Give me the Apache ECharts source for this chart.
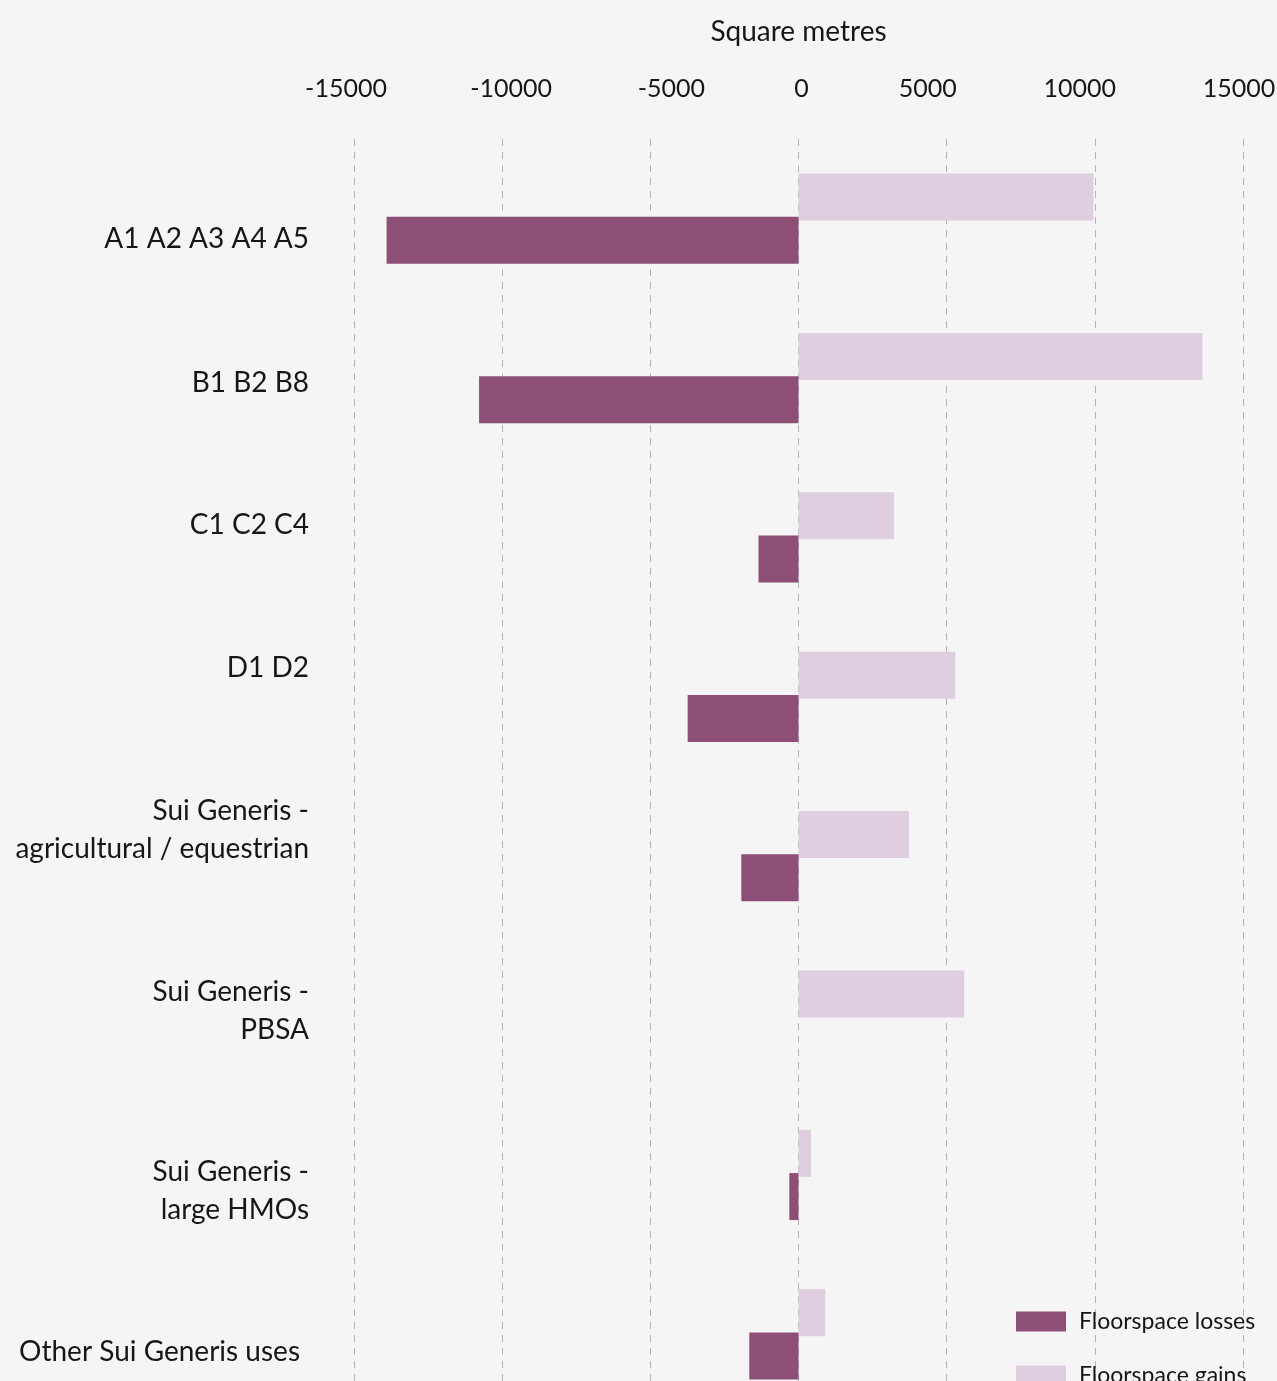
<!DOCTYPE html>
<html>
<head>
<meta charset="utf-8">
<script src="https://cdn.jsdelivr.net/npm/echarts@6/dist/echarts.min.js"></script>
<style>
  html, body { margin: 0; padding: 0; background: #f5f5f5; }
  #chart { width: 1277px; height: 1381px; }
</style>
</head>
<body>
<div id="chart"></div>
<script>
// Use classes (multi-line names wrap with \n)
const categories = [
  'A1 A2 A3 A4 A5',
  'B1 B2 B8',
  'C1 C2 C4',
  'D1 D2',
  'Sui Generis -\nagricultural / equestrian',
  'Sui Generis -\nPBSA',
  'Sui Generis -\nlarge HMOs',
  'Other Sui Generis uses'
];

// Floorspace change, square metres
const gains  = [9950, 13630, 3220, 5290, 3730, 5590, 420, 900];
const losses = [-13900, -10780, -1350, -3740, -1930, 0, -310, -1660];

// Axis ticks
const xTicks = [-15000, -10000, -5000, 0, 5000, 10000, 15000];

const seriesNames = { losses: 'Floorspace losses', gains: 'Floorspace gains' };

// ---- presentation ----
const FONT = 'Lato, "Open Sans", sans-serif';
const INK = '#161616';
const LOSS_COLOR = '#8e4f77';
const GAIN_COLOR = '#dfcedf';

// nudges for individual axis labels (px; + = down / right)
const yLabelNudge = [20, 5, -12, -29, -26, -5, 16, 18];
const yLabelNudgeX = [0, 0, 0, 0, 0, 0, 0, -9];
const xLabelNudge = [-8, 9, 21, 3, -19, -15, -4];

const yRich = {};
yLabelNudge.forEach((d, i) => {
  const dx = yLabelNudgeX[i];
  yRich['c' + i] = {
    fontFamily: FONT, fontSize: 28, lineHeight: 38, color: INK, align: 'right',
    padding: dx < 0 ? [0, -dx, 0, 0] : [0, 0, 0, 0]
  };
  yRich['sp' + i] = { fontSize: 1, lineHeight: Math.max(1, Math.abs(d) * 2) };
});

const xRich = {};
xLabelNudge.forEach((d, i) => {
  xRich['x' + i] = {
    fontFamily: FONT, fontSize: 25, color: INK,
    padding: d >= 0 ? [0, 0, 0, 2 * d] : [0, -2 * d, 0, 0]
  };
});

const chart = echarts.init(document.getElementById('chart'), null, { renderer: 'canvas' });

chart.setOption({
  animation: false,
  backgroundColor: '#f5f5f5',
  textStyle: { fontFamily: FONT, color: INK },
  grid: {
    left: 354, right: 34, top: 139, height: 1275,
    containLabel: false,
    outerBoundsMode: 'none'
  },
  legend: {
    orient: 'vertical',
    left: 1016,
    top: 1310,
    height: 200,
    padding: 0,
    icon: 'rect',
    itemWidth: 50,
    itemHeight: 20,
    itemGap: 31,
    data: [seriesNames.losses, seriesNames.gains],
    textStyle: { fontFamily: FONT, fontSize: 23, lineHeight: 20, color: INK, padding: [0, 0, 0, 8] }
  },
  xAxis: {
    type: 'value',
    position: 'top',
    min: xTicks[0],
    max: xTicks[xTicks.length - 1],
    interval: xTicks[1] - xTicks[0],
    name: 'Square metres',
    nameLocation: 'middle',
    nameGap: 93,
    nameTextStyle: { fontFamily: FONT, fontSize: 28, color: INK },
    axisLine: { show: false },
    axisTick: { show: false },
    axisLabel: {
      margin: 38,
      formatter: (v, i) => '{x' + i + '|' + String(v) + '}',
      rich: xRich
    },
    splitLine: {
      show: true,
      lineStyle: { color: '#b4b4b4', width: 1, type: [7, 6] }
    }
  },
  yAxis: {
    type: 'category',
    inverse: true,
    data: categories,
    axisLine: { show: false },
    axisTick: { show: false },
    splitLine: { show: false },
    axisLabel: {
      margin: 45,
      interval: 0,
      formatter: (value, idx) => {
        const body = value.split('\n').map(l => '{c' + idx + '|' + l + '}').join('\n');
        const d = yLabelNudge[idx] || 0;
        if (d > 0) return '{sp' + idx + '|\u00a0}\n' + body;
        if (d < 0) return body + '\n{sp' + idx + '|\u00a0}';
        return body;
      },
      rich: yRich
    }
  },
  series: [
    {
      name: seriesNames.gains,
      type: 'bar',
      data: gains,
      barWidth: 47,
      barGap: '-8%',
      itemStyle: { color: GAIN_COLOR }
    },
    {
      name: seriesNames.losses,
      type: 'bar',
      data: losses,
      barWidth: 47,
      barGap: '-8%',
      itemStyle: { color: LOSS_COLOR }
    }
  ]
});
</script>
</body>
</html>
